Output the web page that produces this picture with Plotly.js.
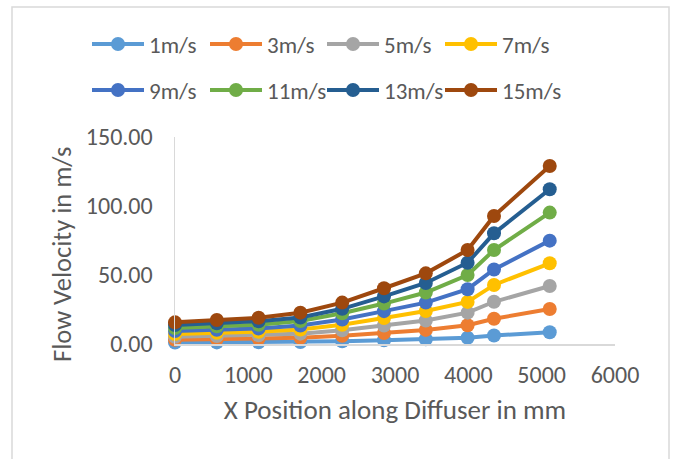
<!DOCTYPE html>
<html>
<head>
<meta charset="utf-8">
<script src="https://cdn.plot.ly/plotly-3.0.1.min.js"></script>
<style>
html,body{margin:0;padding:0;background:#fff;}
#chart{width:673px;height:459px;}
</style>
</head>
<body>
<div id="chart"></div>
<script>
// X positions along the diffuser (mm)
var xPos = [0, 570, 1140, 1710, 2280, 2850, 3420, 3990, 4350, 5110];

// Series names
var seriesNames = ["1m/s", "3m/s", "5m/s", "7m/s", "9m/s", "11m/s", "13m/s", "15m/s"];

// Flow velocity values (m/s) per inlet speed
var v1  = [1.05, 1.16, 1.27, 1.5, 2.0, 2.7, 3.4, 4.5, 6.2, 8.5];
var v3  = [3.1, 3.5, 3.8, 4.5, 6.0, 8.0, 10.2, 13.6, 18.3, 25.4];
var v5  = [5.2, 5.8, 6.3, 7.5, 10.0, 13.4, 17.0, 22.7, 30.6, 42.0];
var v7  = [7.3, 8.1, 8.9, 10.5, 14.0, 18.8, 23.9, 30.5, 42.8, 58.5];
var v9  = [9.4, 10.3, 11.3, 13.4, 17.7, 23.8, 30.0, 39.7, 54.0, 74.9];
var v11 = [11.6, 12.8, 14.0, 16.6, 22.3, 29.3, 37.3, 50.0, 68.1, 95.2];
var v13 = [13.7, 15.0, 16.5, 19.2, 25.5, 34.5, 44.2, 58.9, 80.2, 112.1];
var v15 = [15.7, 17.4, 19.0, 22.7, 30.0, 40.4, 51.2, 68.1, 92.8, 129.0];

var seriesValues = [v1, v3, v5, v7, v9, v11, v13, v15];
var seriesColors = ["#5B9BD5", "#ED7D31", "#A5A5A5", "#FFC000", "#4472C4", "#70AD47", "#255E91", "#9E480E"];

var FONT = "Carlito, Calibri, Lato, sans-serif";
var TXT = "#595959";

var L = 175, R = 615, T = 137, B = 344;
function px2x(p) { return (p - L) / (R - L); }
function py2y(p) { return (B - p) / (B - T); }

// legend grid: 4 columns x 2 rows, one legend per entry
var legendColsPx = [87, 205, 322, 440];
var legendRowsPx = [44, 90];

var traces = seriesNames.map(function (name, i) {
  return {
    type: "scatter",
    mode: "lines+markers",
    name: name,
    x: xPos,
    y: seriesValues[i],
    cliponaxis: false,
    line: {color: seriesColors[i], width: 4},
    marker: {color: seriesColors[i], size: 14},
    legend: i === 0 ? "legend" : "legend" + (i + 1)
  };
});

var layout = {
  width: 673,
  height: 459,
  margin: {l: L, r: 673 - R, t: T, b: 459 - B},
  paper_bgcolor: "#ffffff",
  plot_bgcolor: "#ffffff",
  font: {family: FONT, size: 24, color: TXT},
  showlegend: true,
  xaxis: {
    range: [0, 6000],
    dtick: 1000,
    tick0: 0,
    showgrid: false,
    zeroline: false,
    showline: true,
    linecolor: "#d9d9d9",
    linewidth: 1.5,
    ticks: "",
    ticklabelstandoff: 9,
    tickfont: {family: FONT, size: 24, color: TXT},
    title: {text: "X Position along Diffuser in mm", font: {family: FONT, size: 27, color: TXT}, standoff: 12},
    fixedrange: true
  },
  yaxis: {
    range: [0, 150],
    dtick: 50,
    tick0: 0,
    tickformat: ".2f",
    showgrid: false,
    zeroline: false,
    showline: true,
    linecolor: "#d9d9d9",
    linewidth: 1.5,
    ticks: "",
    ticklabelstandoff: 16,
    tickfont: {family: FONT, size: 24, color: TXT},
    fixedrange: true
  },
  annotations: [{
    text: "Flow Velocity in m/s",
    xref: "paper", yref: "paper",
    x: px2x(62), y: py2y(255),
    xanchor: "center", yanchor: "middle",
    textangle: -90,
    showarrow: false,
    font: {family: FONT, size: 26.5, color: TXT}
  }],
  shapes: [{
    type: "rect",
    xref: "paper", yref: "paper",
    x0: px2x(12), x1: px2x(669),
    y0: py2y(470), y1: py2y(7),
    line: {color: "#d9d9d9", width: 1.5},
    fillcolor: "rgba(0,0,0,0)",
    layer: "below"
  }]
};

seriesNames.forEach(function (name, i) {
  var key = i === 0 ? "legend" : "legend" + (i + 1);
  layout[key] = {
    orientation: "h",
    font: {family: FONT, size: 23, color: TXT},
    bgcolor: "rgba(0,0,0,0)",
    itemwidth: 52,
    xanchor: "left",
    yanchor: "middle",
    itemclick: false,
    x: px2x(legendColsPx[i % 4]),
    y: py2y(legendRowsPx[Math.floor(i / 4)])
  };
});

Plotly.newPlot("chart", traces, layout, {displayModeBar: false, staticPlot: true});
</script>
</body>
</html>
